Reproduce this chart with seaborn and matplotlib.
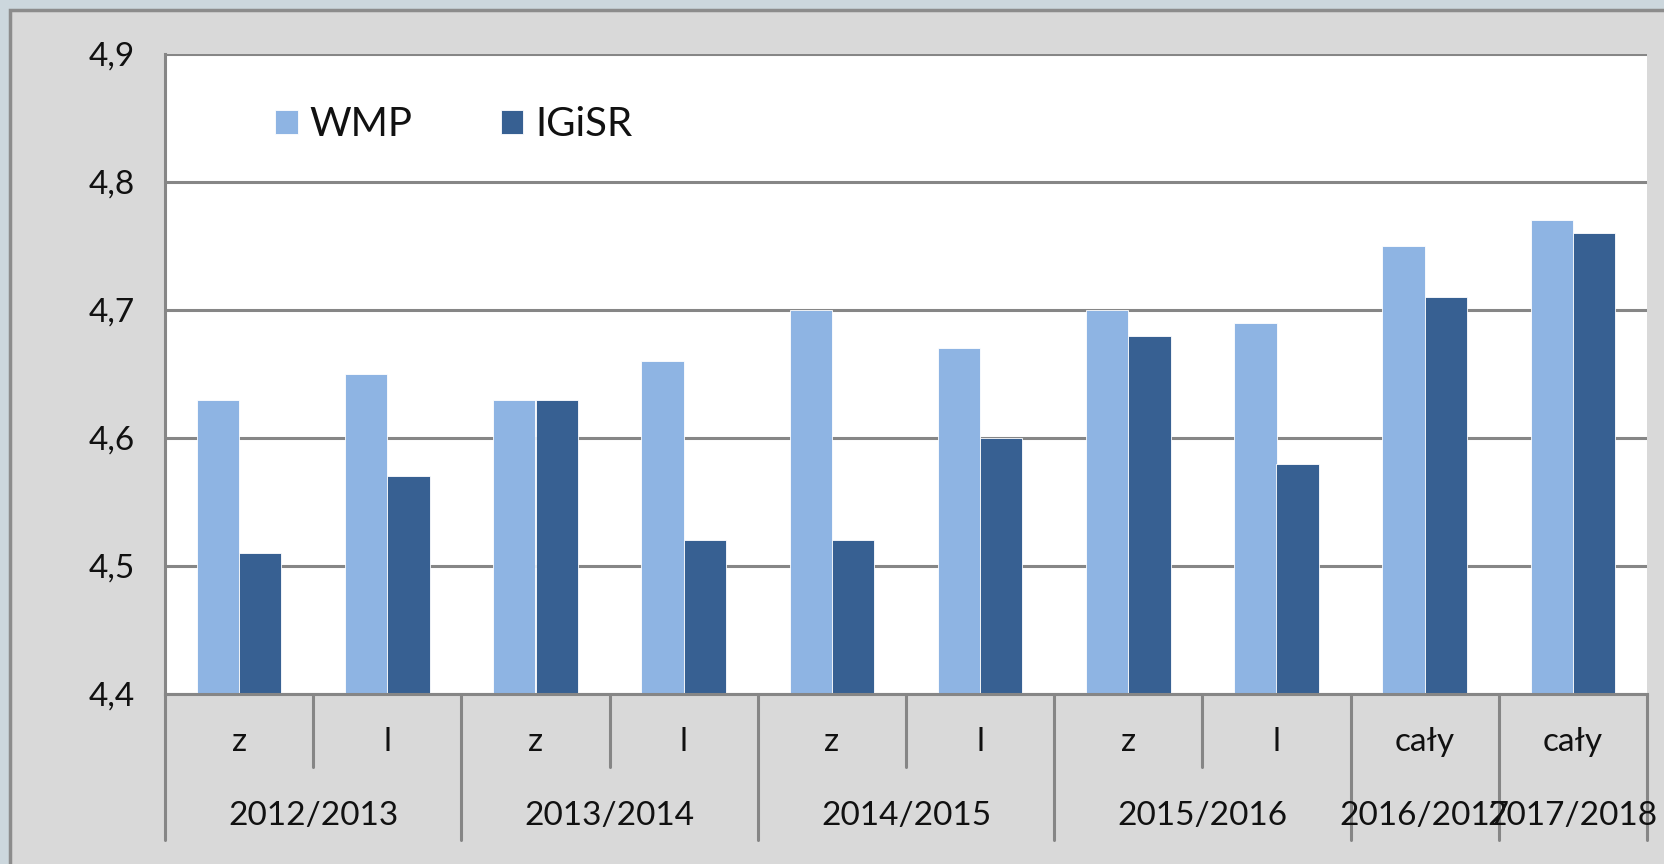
import numpy as np
import pandas as pd
import matplotlib
matplotlib.use("Agg")
import matplotlib.pyplot as plt
import matplotlib.transforms as mtransforms
from matplotlib.patches import Rectangle
import seaborn as sns

# data
years = ["2012/2013", "2013/2014", "2014/2015", "2015/2016", "2016/2017", "2017/2018"]
periods = ["z", "l", "z", "l", "z", "l", "z", "l", "cały", "cały"]
period_year = [0, 0, 1, 1, 2, 2, 3, 3, 4, 5]
wmp = [4.63, 4.65, 4.63, 4.66, 4.70, 4.67, 4.70, 4.69, 4.75, 4.77]
igisr = [4.51, 4.57, 4.63, 4.52, 4.52, 4.60, 4.68, 4.58, 4.71, 4.76]
series = ["WMP", "IGiSR"]
colors = ["#8EB4E3", "#376092"]
yticks = [4.4, 4.5, 4.6, 4.7, 4.8, 4.9]

n = len(periods)
keys = [f"k{i}" for i in range(n)]
df = pd.DataFrame({
    "key": keys * 2,
    "value": wmp + igisr,
    "series": ["WMP"] * n + ["IGiSR"] * n,
})

sns.set_style("white")
plt.rcParams["font.family"] = ["Lato", "DejaVu Sans"]
plt.rcParams["text.color"] = "#111111"
plt.rcParams["xtick.color"] = "#111111"
plt.rcParams["ytick.color"] = "#111111"

W, H = 1665, 864
fig = plt.figure(figsize=(W / 100, H / 100), dpi=100, facecolor="#CCD7DD")
fig.patches.append(Rectangle((10 / W, -0.01), 1.0, 1 - 10 / H + 0.01, transform=fig.transFigure,
                             facecolor="#D9D9D9", edgecolor="#8C8C8C", linewidth=2.5, zorder=-5))
ax = fig.add_axes([165 / W, 1 - 694 / H, (1647 - 165) / W, (694 - 54) / H])
ax.set_facecolor("white")

sns.barplot(data=df, x="key", y="value", hue="series", hue_order=series,
            palette=colors, width=0.57, ax=ax, saturation=1, gap=0)
for p in ax.patches:
    p.set_edgecolor("white")
    p.set_linewidth(0.6)

ax.set_ylim(4.4, 4.9)
ax.set_xlim(-0.5, n - 0.5)
ax.set_yticks(yticks)
ax.set_yticklabels([f"{v:.1f}".replace(".", ",") for v in yticks], fontsize=24)
ax.yaxis.grid(True, color="#868686", linewidth=2.2)
ax.set_axisbelow(True)
ax.tick_params(axis="y", length=8, width=2, color="#868686", labelcolor="#111111", pad=14)
ax.set_xlabel("")
ax.set_ylabel("")
for s in ["top", "right"]:
    ax.spines[s].set_visible(False)
for s in ["left", "bottom"]:
    ax.spines[s].set_color("#868686")
    ax.spines[s].set_linewidth(2.2)

# multi-level category axis
ax.set_xticks(range(n))
ax.set_xticklabels(periods, fontsize=24)
ax.tick_params(axis="x", length=0, pad=24)
trans = mtransforms.blended_transform_factory(ax.transData, ax.transAxes)
for i in range(n + 1):
    x = i - 0.5
    full = i == 0 or i == n or period_year[i] != period_year[i - 1]
    ax.plot([x, x], [0, -0.228 if full else -0.114], color="#868686", lw=2.2,
            transform=trans, clip_on=False)
for y_idx, label in enumerate(years):
    idx = [i for i, v in enumerate(period_year) if v == y_idx]
    ax.text(np.mean(idx), -0.19, label, transform=trans, ha="center", va="center",
            fontsize=24)

leg = ax.legend(loc="upper left", bbox_to_anchor=(0.05, 0.975), ncol=2, frameon=False,
                fontsize=29, handlelength=0.55, handleheight=0.55, columnspacing=2.2,
                handletextpad=0.3)

fig.savefig("out.png", dpi=100, facecolor=fig.get_facecolor())
